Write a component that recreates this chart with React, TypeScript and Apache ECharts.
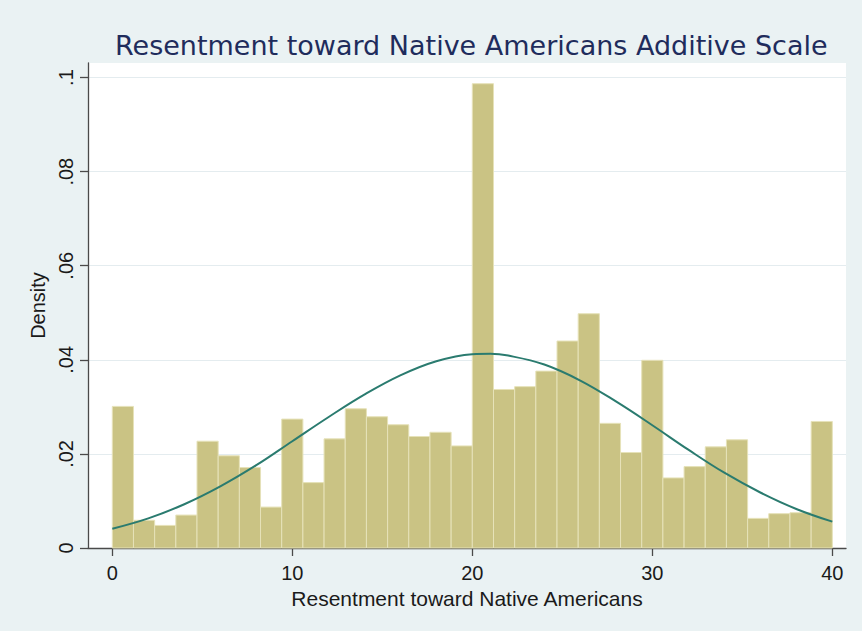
import React, { useEffect, useRef } from "react";
import * as echarts from "echarts";

const titleText = "Resentment toward Native Americans Additive Scale";
const xAxisTitle = "Resentment toward Native Americans";
const yAxisTitle = "Density";

// Histogram: 34 equal-width bins between 0 and 40
const binMin = 0;
const binMax = 40;
const densities = [
  0.0301, 0.0059, 0.0048, 0.007, 0.0227, 0.0196, 0.0171, 0.0087, 0.0274, 0.0139,
  0.0232, 0.0296, 0.0279, 0.0262, 0.0237, 0.0246, 0.0217, 0.0987, 0.0337, 0.0343,
  0.0376, 0.044, 0.0498, 0.0265, 0.0203, 0.0399, 0.0149, 0.0173, 0.0215, 0.023,
  0.0063, 0.0073, 0.0075, 0.0269,
];

// Normal density overlay
const curveX = [0, 2, 4, 6, 8, 10, 12, 14, 16, 18, 20, 21, 22, 24, 26, 28, 30, 32, 34, 36, 38, 40];
const curveY = [
  0.0041, 0.0063, 0.0093, 0.0131, 0.0176, 0.0227, 0.0278, 0.0326, 0.0367, 0.0397,
  0.0412, 0.0413, 0.0409, 0.039, 0.0356, 0.0311, 0.0261, 0.0209, 0.016, 0.0118,
  0.0083, 0.0056,
];

const xTicks = [0, 10, 20, 30, 40];
const yTicks = [0, 0.02, 0.04, 0.06, 0.08, 0.1];

export default function App() {
  const ref = useRef<HTMLDivElement>(null);

  useEffect(() => {
    document.body.style.margin = "0";
    const chart = echarts.init(ref.current!, null, { renderer: "svg" });
    const binWidth = (binMax - binMin) / densities.length;
    const barData = densities.map((d, i) => [binMin + i * binWidth, binMin + (i + 1) * binWidth, d]);
    const lineData = curveX.map((x, i) => [x, curveY[i]]);
    const labelFont = "'Liberation Sans', Arial, sans-serif";

    chart.setOption({
      animation: false,
      backgroundColor: "#eaf2f3",
      title: {
        text: titleText,
        left: 110,
        top: 27,
        textStyle: {
          fontFamily: "'DejaVu Sans', sans-serif",
          fontSize: 27,
          fontWeight: "normal",
          color: "#1f2c5c",
        },
      },
      grid: {
        left: 88,
        right: 16,
        top: 63,
        bottom: 83,
        show: true,
        backgroundColor: "#ffffff",
        borderWidth: 0,
      },
      xAxis: {
        type: "value",
        min: -1.35,
        max: 40.76,
        name: xAxisTitle,
        nameLocation: "middle",
        nameGap: 35,
        nameTextStyle: { fontFamily: labelFont, fontSize: 21, color: "#1a1a1a" },
        axisLine: { show: true, onZero: false, lineStyle: { color: "#4a4a4a", width: 1.3 } },
        axisTick: { show: true, length: 8, customValues: xTicks, lineStyle: { color: "#4a4a4a", width: 1.3 } },
        axisLabel: {
          customValues: xTicks,
          margin: 15,
          fontFamily: labelFont,
          fontSize: 20,
          color: "#1a1a1a",
        },
        splitLine: { show: false },
      },
      yAxis: {
        type: "value",
        min: 0,
        max: 0.1031,
        name: yAxisTitle,
        nameLocation: "middle",
        nameRotate: 90,
        nameGap: 40,
        nameTextStyle: { fontFamily: labelFont, fontSize: 20, color: "#1a1a1a" },
        axisLine: { show: true, onZero: false, lineStyle: { color: "#4a4a4a", width: 1.3 } },
        axisTick: { show: true, length: 8, customValues: yTicks, lineStyle: { color: "#4a4a4a", width: 1.3 } },
        axisLabel: {
          customValues: yTicks,
          rotate: 90,
          margin: 12,
          fontFamily: labelFont,
          fontSize: 20,
          color: "#1a1a1a",
          formatter: (v: number) => (v === 0 ? "0" : String(Number(v.toFixed(2))).replace(/^0\./, ".")),
        },
        splitLine: { show: true, lineStyle: { color: "#e4ecef", width: 1 } },
      },
      series: [
        {
          type: "custom",
          data: barData,
          encode: { x: [0, 1], y: 2 },
          renderItem: (params: any, api: any) => {
            const p0 = api.coord([api.value(0), 0]);
            const p1 = api.coord([api.value(1), api.value(2)]);
            return {
              type: "rect",
              shape: { x: p0[0], y: p1[1], width: p1[0] - p0[0], height: p0[1] - p1[1] },
              style: { fill: "#cac384", stroke: "#e6e2b9", lineWidth: 1 },
            };
          },
          z: 2,
        },
        {
          type: "line",
          data: lineData,
          smooth: 0.4,
          showSymbol: false,
          lineStyle: { color: "#2a7b6f", width: 2 },
          z: 3,
        },
      ],
    });
    return () => chart.dispose();
  }, []);

  return (
    <div
      ref={ref}
      style={{ position: "absolute", left: 0, top: 0, width: 862, height: 631 }}
    />
  );
}
